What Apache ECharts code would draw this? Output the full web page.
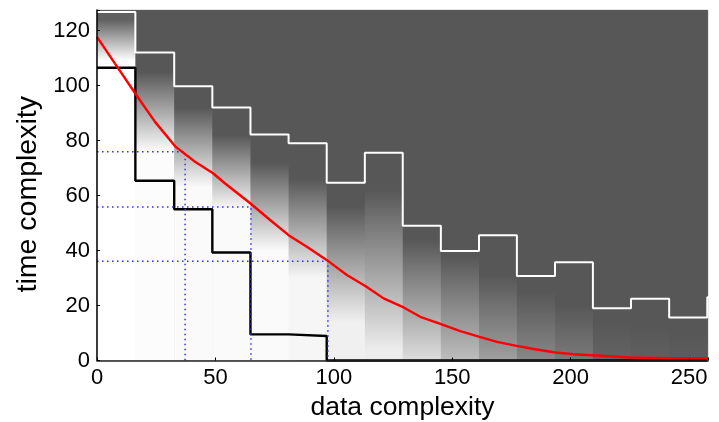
<!DOCTYPE html>
<html>
<head>
<meta charset="utf-8">
<script src="https://cdn.jsdelivr.net/npm/echarts@6/dist/echarts.min.js"></script>
<style>
  html, body { margin: 0; padding: 0; background: #ffffff; }
  #chart { width: 719px; height: 422px; }
</style>
</head>
<body>
<div id="chart"></div>
<script>
// Column edges along the data-complexity axis
const colEdges = [0, 16.2, 32.6, 48.7, 64.8, 80.9, 97.0, 113.1, 129.1, 145.2, 161.3, 177.3, 193.4, 209.4, 225.5, 241.6, 257.7, 274];

// Upper bound (white steps) and lower bound (black steps) per column
const upperBound = [126.8, 112, 99.8, 92, 82.2, 79, 64.7, 75.6, 49, 39.8, 45.6, 30.7, 35.7, 19, 22.5, 15.6, 23];
const lowerBound = [106.5, 65.4, 55, 39.3, 9.5, 8.9, 0, 0, 0, 0, 0, 0, 0, 0, 0, 0];

// Shading per column: grey level at the bottom, and the band where it fades to the background
const shadeLow = [255, 252, 250, 250, 250, 246, 240, 236, 222, 190, 160, 136, 122, 100, 96, 93];
const fadeLo   = [109, 76, 63, 55, 40, 30, 14, 4, 0, 0, 0, 0, 0, 0, 0, 0];
const fadeHi   = [124, 105, 92, 82, 72, 66, 56, 62, 44, 38, 31, 25, 20, 14, 12, 10];

// Expected time complexity curve (red)
const curveX = [0, 7.6, 16.1, 24.5, 33, 41.4, 49, 54.1, 64.7, 73.1, 80.9, 88.6, 97.1, 105.5, 113.3, 121, 129.5, 136.5, 145, 153.4, 161.2, 168.9, 176.7, 185, 193.6, 201, 209, 225.3, 241.4, 258];
const curveY = [117.7, 108, 97.2, 86.8, 77.9, 72.3, 68.1, 64.4, 57.2, 51.1, 45.6, 41.4, 36.5, 31.1, 27.1, 22.6, 19.3, 15.9, 13.3, 10.7, 8.7, 6.8, 5.4, 4.1, 2.9, 2.3, 1.9, 1.1, 0.8, 0.8];

// Reference drop lines (blue dotted)
const dropX = [37.2, 65.0, 97.5];
const dropY = [75.9, 55.8, 36.1];

const xMax = 258;
const yMax = 127.5;
const bgGrey = 87;

const grey = v => 'rgb(' + v + ',' + v + ',' + v + ')';

function stepPoints(values) {
  const pts = [];
  values.forEach((v, i) => {
    pts.push([colEdges[i], v]);
    pts.push([colEdges[i + 1], v]);
  });
  return pts;
}

const chart = echarts.init(document.getElementById('chart'), null, { renderer: 'canvas' });

const font = '"Liberation Sans", Arial, Helvetica, sans-serif';

const series = [
  {
    type: 'custom',
    name: 'density',
    z: 1,
    silent: true,
    clip: true,
    data: shadeLow.map((s, i) => [i]),
    renderItem: function (params, api) {
      const i = api.value(0);
      const p0 = api.coord([colEdges[i], 0]);
      const p1 = api.coord([colEdges[i + 1], yMax]);
      const top = i === 0 ? 96 : bgGrey;
      const stops = [
        { offset: 0, color: grey(shadeLow[i]) },
        { offset: fadeLo[i] / yMax, color: grey(shadeLow[i]) },
        { offset: fadeHi[i] / yMax, color: grey(top) },
        { offset: 1, color: grey(top) }
      ];
      return {
        type: 'rect',
        shape: { x: p0[0], y: p1[1], width: p1[0] - p0[0] + 0.6, height: p0[1] - p1[1] },
        style: { fill: new echarts.graphic.LinearGradient(0, 1, 0, 0, stops) }
      };
    }
  },
  {
    type: 'line',
    name: 'upper',
    z: 3,
    data: stepPoints(upperBound),
    symbol: 'none',
    lineStyle: { color: '#ffffff', width: 2 },
    animation: false
  },
  {
    type: 'line',
    name: 'lower',
    z: 4,
    clip: false,
    data: stepPoints(lowerBound),
    symbol: 'none',
    lineStyle: { color: '#000000', width: 2.4 },
    animation: false
  }
];

dropX.forEach((x, k) => {
  series.push({
    type: 'line',
    name: 'drop' + k,
    z: 5,
    data: [[0, dropY[k]], [x, dropY[k]], [x, 0]],
    symbol: 'none',
    lineStyle: { color: '#2f2fff', width: 1.5, type: [1.5, 3.5] },
    animation: false
  });
});

series.push({
  type: 'line',
  name: 'expected',
  z: 6,
  data: curveX.map((x, i) => [x, curveY[i]]),
  symbol: 'none',
  lineStyle: { color: '#ff0000', width: 2.4 },
  animation: false
});

chart.setOption({
  animation: false,
  backgroundColor: '#ffffff',
  grid: {
    left: 97, right: 11, top: 10, bottom: 61.5,
    containLabel: false,
    outerBoundsMode: 'none',
    show: true,
    backgroundColor: grey(bgGrey),
    borderColor: '#c8c8c8',
    borderWidth: 1
  },
  xAxis: {
    type: 'value',
    min: 0, max: xMax, interval: 50,
    z: 10,
    name: 'data complexity',
    nameLocation: 'middle',
    nameGap: 34,
    nameTextStyle: { fontFamily: font, fontSize: 26.5, color: '#000' },
    axisLine: { show: true, lineStyle: { color: '#222', width: 1.5 } },
    axisTick: { show: true, inside: true, length: 3, lineStyle: { color: '#000' } },
    splitLine: { show: false },
    axisLabel: {
      fontFamily: font, fontSize: 22, color: '#000', margin: 6,
      formatter: v => (v % 50 === 0 ? String(v) : '')
    }
  },
  yAxis: {
    type: 'value',
    min: 0, max: yMax, interval: 20,
    z: 10,
    name: 'time complexity',
    nameLocation: 'middle',
    nameGap: 53,
    nameTextStyle: { fontFamily: font, fontSize: 28.5, color: '#000', padding: [0, 18, 0, 0] },
    axisLine: { show: true, lineStyle: { color: '#000', width: 1.5 } },
    axisTick: { show: true, inside: true, length: 3, lineStyle: { color: '#000' } },
    splitLine: { show: false },
    axisLabel: {
      fontFamily: font, fontSize: 22, color: '#000', margin: 7,
      formatter: v => (v % 20 === 0 ? String(v) : '')
    }
  },
  series: series
});
</script>
</body>
</html>
